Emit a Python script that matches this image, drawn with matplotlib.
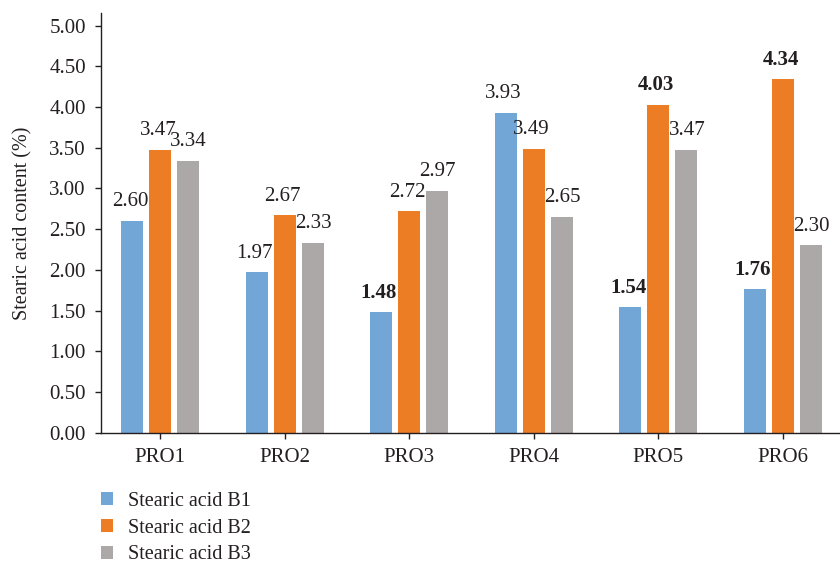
import matplotlib
matplotlib.use("Agg")
import matplotlib.pyplot as plt
import numpy as np

# Datos: contenido de ácido esteárico por muestra
categorias = ["PRO1", "PRO2", "PRO3", "PRO4", "PRO5", "PRO6"]
b1 = [2.60, 1.97, 1.48, 3.93, 1.54, 1.76]
b2 = [3.47, 2.67, 2.72, 3.49, 4.03, 4.34]
b3 = [3.34, 2.33, 2.97, 2.65, 3.47, 2.30]
series = ["Stearic acid B1", "Stearic acid B2", "Stearic acid B3"]
# etiquetas que van en negrita (serie, categoría)
negritas = {(0, 2), (0, 4), (0, 5), (1, 4), (1, 5)}

colores = ["#72A6D7", "#ED7D25", "#ACA8A7"]
# corrimiento horizontal de las etiquetas de cada serie (puntos)
corr_x = [-1.5, -1.5, 0.5]

plt.rcParams["font.family"] = ["Liberation Serif", "DejaVu Serif"]
plt.rcParams["font.size"] = 15

fig = plt.figure(figsize=(8.4, 5.65), dpi=100)
ax = fig.add_axes([0.12, 0.234, 0.88, 0.743])

x = np.arange(len(categorias))
ancho = 0.177
desp = 0.225

for i, (vals, nombre) in enumerate(zip([b1, b2, b3], series)):
    barras = ax.bar(x + (i - 1) * desp, vals, ancho, color=colores[i], label=nombre)
    for j, (rect, v) in enumerate(zip(barras, vals)):
        ax.annotate(f"{v:.2f}", (rect.get_x() + rect.get_width() / 2, v),
                    xytext=(corr_x[i], 7), textcoords="offset points",
                    ha="center", va="bottom", fontsize=15, color="#231f20",
                    fontweight="bold" if (i, j) in negritas else "normal")

ax.set_xlim(-0.476, 5.46)
ax.set_ylim(0, 5.155)
ax.set_yticks(np.arange(0, 5.01, 0.5))
ax.set_yticklabels([f"{t:.2f}" for t in np.arange(0, 5.01, 0.5)])
ax.set_xticks(x)
ax.set_xticklabels(categorias)

for lado in ["top", "right"]:
    ax.spines[lado].set_visible(False)
for lado in ["left", "bottom"]:
    ax.spines[lado].set_color("#231f20")
    ax.spines[lado].set_linewidth(1.0)

ax.tick_params(axis="y", direction="out", length=4.3, width=1.0, pad=6.5,
               colors="#231f20", labelsize=15)
ax.tick_params(axis="x", direction="out", length=4.3, width=1.0, pad=7,
               colors="#231f20", labelsize=15)

ax.set_ylabel("Stearic acid content (%)", fontsize=14.5, color="#231f20")
ax.yaxis.set_label_coords(-0.092, 0.5)

fig.legend(loc="upper left", bbox_to_anchor=(101 / 840, 1 - 492 / 565),
           frameon=False, fontsize=14.5, handlelength=0.62, handleheight=0.62,
           handletextpad=0.7, labelspacing=0.38, borderpad=0, borderaxespad=0,
           labelcolor="#231f20")

plt.savefig("out.png", dpi=100)
